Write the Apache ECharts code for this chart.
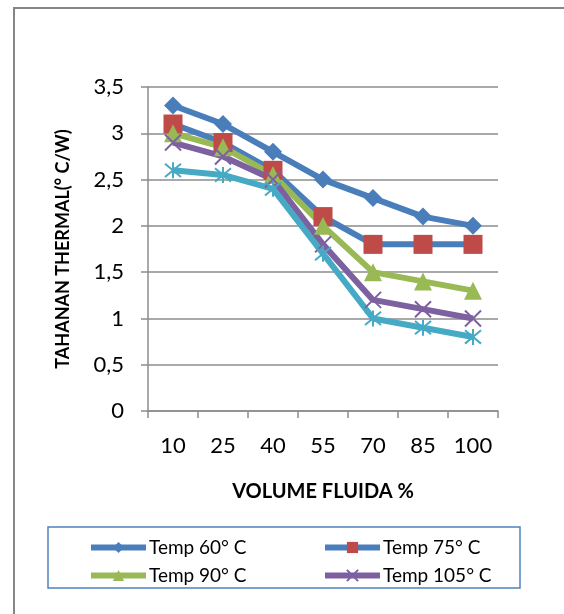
<!DOCTYPE html>
<html>
<head>
<meta charset="utf-8">
<script src="https://cdn.jsdelivr.net/npm/echarts@6/dist/echarts.min.js"></script>
<style>
  html, body { margin: 0; padding: 0; background: #fff; }
  #chart { width: 564px; height: 614px; }
</style>
</head>
<body>
<div id="chart"></div>
<script>
let categories = ['10', '25', '40', '55', '70', '85', '100']
let temp60 = [3.3, 3.1, 2.8, 2.5, 2.3, 2.1, 2.0]
let temp75 = [3.1, 2.9, 2.6, 2.1, 1.8, 1.8, 1.8]
let temp90 = [3.0, 2.85, 2.55, 2.0, 1.5, 1.4, 1.3]
let temp105 = [2.9, 2.75, 2.5, 1.8, 1.2, 1.1, 1.0]
let temp120 = [2.6, 2.55, 2.4, 1.7, 1.0, 0.9, 0.8]

let font = 'Lato, "Open Sans", sans-serif'
let gridColor = '#8c8c8c'

let xSymbol = 'path://M0,0L10,10M10,0L0,10'
let starSymbol = 'path://M0,0L10,10M10,0L0,10M5,-1L5,11'

function lineSeries(name, data, lineColor, markColor, symbol, size, stroke) {
  return {
    name: name,
    type: 'line',
    data: data,
    symbol: symbol,
    symbolSize: size,
    showSymbol: true,
    lineStyle: { color: lineColor, width: 6 },
    itemStyle: stroke
      ? { color: markColor, borderColor: markColor, borderWidth: 2 }
      : { color: markColor },
    z: 2
  }
}

function legendCol(left, names) {
  return {
    orient: 'vertical',
    left: left,
    top: 538,
    padding: 0,
    itemWidth: 55,
    itemHeight: 14,
    itemGap: 9,
    lineStyle: { width: 6 },
    textStyle: { fontSize: 19, color: '#000', fontFamily: font, padding: [0, 0, 0, -2] },
    data: names
  }
}

var myChart = echarts.init(document.getElementById('chart'))
var option = {
  animation: false,
  textStyle: { fontFamily: font },
  grid: { left: 148, right: 66, top: 87, bottom: 203 },
  graphic: [
    {
      type: 'rect',
      shape: { x: 14, y: 8, width: 600, height: 650 },
      style: { fill: 'none', stroke: '#868686', lineWidth: 2 }
    },
    {
      type: 'rect',
      shape: { x: 48, y: 527, width: 472, height: 61 },
      style: { fill: 'none', stroke: '#4f81bd', lineWidth: 1.5 }
    }
  ],
  legend: [
    legendCol(88, ['Temp 60° C', 'Temp 90° C']),
    legendCol(322, ['Temp 75° C', 'Temp 105° C'])
  ],
  xAxis: {
    type: 'category',
    data: categories,
    name: 'VOLUME FLUIDA %',
    nameLocation: 'middle',
    nameGap: 71,
    nameTextStyle: { fontSize: 20, fontWeight: 'bold', color: '#000' },
    axisLine: { lineStyle: { color: gridColor, width: 1.5 } },
    axisTick: { show: true, length: 7, lineStyle: { color: gridColor, width: 1.5 } },
    axisLabel: { fontSize: 22, color: '#000', margin: 24, interval: 0 }
  },
  yAxis: {
    type: 'value',
    min: 0,
    max: 3.5,
    interval: 0.5,
    name: 'TAHANAN THERMAL(° C/W)',
    nameLocation: 'middle',
    nameGap: 76,
    nameTextStyle: { fontSize: 18, fontWeight: 'bold', color: '#000' },
    axisLine: { show: true, lineStyle: { color: gridColor, width: 1.5 } },
    axisTick: { show: true, length: 7, lineStyle: { color: gridColor, width: 1.5 } },
    axisLabel: {
      fontSize: 22,
      color: '#000',
      margin: 24,
      formatter: function(v) { return String(v).replace('.', ',') }
    },
    splitLine: { show: true, lineStyle: { color: gridColor, width: 1.5 } }
  },
  series: [
    lineSeries('Temp 60° C', temp60, '#4a7ebb', '#4a7ebb', 'diamond', 18, false),
    lineSeries('Temp 75° C', temp75, '#4a7ebb', '#be4b48', 'rect', 19, false),
    lineSeries('Temp 90° C', temp90, '#98b954', '#98b954', 'triangle', 18, false),
    lineSeries('Temp 105° C', temp105, '#7d60a0', '#7d60a0', xSymbol, 16, true),
    lineSeries('Temp 120° C', temp120, '#46aac5', '#46aac5', starSymbol, 16, true)
  ]
}
myChart.setOption(option)
window.addEventListener('resize', function() {
  myChart.resize()
})
</script>
</body>
</html>
